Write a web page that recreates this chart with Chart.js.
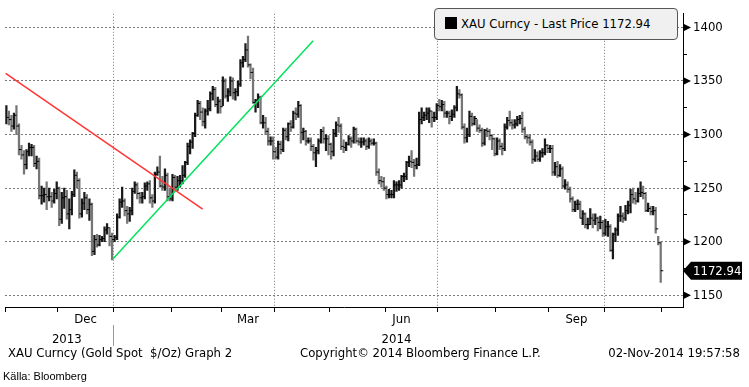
<!DOCTYPE html>
<html lang="sv">
<head>
<meta charset="UTF-8">
<title>XAU Curncy - Gold Spot</title>
<script src="https://cdn.jsdelivr.net/npm/chart.js@4"></script>
<style>
  body { margin: 0; background: #fff; }
  #wrap { position: relative; width: 749px; height: 387px; overflow: hidden; font-family: "DejaVu Sans Condensed", "DejaVu Sans", sans-serif; color: #000; }
  #chart { position: absolute; left: 0; top: 0; }
  .legend { position: absolute; left: 434px; top: 8px; width: 242px; height: 30px; background: #f0f0f0; border: 1px solid #555; border-radius: 4px; font-size: 13px; line-height: 30px; white-space: nowrap; }
  .legend i { display: inline-block; width: 12px; height: 12px; background: #000; margin: 0 4px 0 10px; vertical-align: -1px; }
  .foot { position: absolute; top: 345px; font-size: 13px; white-space: pre; }
  .src { position: absolute; left: 3px; top: 370px; font: 11px "Liberation Sans Narrow", "Liberation Sans", sans-serif; }
</style>
</head>
<body>
<div id="wrap">
  <canvas id="chart" width="749" height="387"></canvas>
  <div class="legend"><i></i>XAU Curncy - Last Price 1172.94</div>
  <div class="foot" style="left:8px">XAU Curncy (Gold Spot  $/Oz) Graph 2</div>
  <div class="foot" style="left:300px">Copyright© 2014 Bloomberg Finance L.P.</div>
  <div class="foot" style="right:9px">02-Nov-2014 19:57:58</div>
  <div class="src">Källa: Bloomberg</div>
</div>
<script>
// daily bars, one per weekday, 1 Nov 2013 - 31 Oct 2014
const highs = [
  1327,1322,1318,1320,1327,1310,1290,1285,1286,1292,1291,1290,1280,1278,1252,1250,1256,1250,1246,1249,1256, // Nov
  1251,1246,1250,1248,1240,1247,1267,1265,1259,1240,1246,1244,1240,1236,1206,1207,1206,1205,1214,1217,1213,1208, // Dec
  1206,1226,1240,1251,1240,1233,1232,1250,1256,1255,1246,1246,1255,1256,1257,1244,1265,1270,1280,1261,1268,1264,1250, // Jan
  1263,1262,1261,1262,1271,1275,1292,1295,1302,1320,1332,1331,1325,1324,1332,1340,1345,1344,1335,1333, // Feb
  1354,1352,1343,1354,1353,1343,1350,1370,1373,1385,1392,1366,1362,1333,1338,1336,1318,1316,1306,1298,1298, // Mar
  1288,1294,1294,1306,1306,1311,1313,1322,1325,1331,1328,1306,1304,1297,1297,1291,1288,1296,1305,1307,1300,1299, // Apr
  1292,1305,1312,1316,1310,1295,1293,1299,1298,1307,1306,1297,1297,1297,1296,1297,1296,1296,1293,1268,1261,1260, // May
  1252,1249,1248,1257,1256,1257,1262,1264,1275,1280,1285,1277,1278,1321,1325,1321,1325,1325,1322,1321,1329, // Jun
  1333,1332,1331,1322,1322,1323,1327,1345,1342,1338,1310,1306,1322,1320,1317,1314,1309,1306,1305,1306,1305,1300,1297, // Jul
  1297,1296,1292,1310,1316,1322,1314,1314,1317,1318,1321,1307,1300,1300,1295,1286,1284,1285,1287,1296,1291, // Aug
  1290,1290,1274,1275,1272,1270,1258,1256,1251,1242,1238,1239,1238,1229,1227,1222,1231,1226,1226,1223,1224,1220, // Sep
  1221,1219,1216,1208,1213,1226,1233,1227,1234,1238,1249,1250,1246,1250,1256,1252,1246,1236,1233,1233,1232,1205,1200  // Oct
];
const lows = [
  1310,1309,1303,1305,1300,1281,1277,1263,1268,1280,1280,1270,1268,1240,1235,1237,1230,1238,1232,1236,1240,
  1215,1217,1231,1221,1212,1225,1242,1250,1222,1223,1230,1226,1220,1187,1188,1195,1196,1200,1200,1207,1196,1183,
  1200,1202,1222,1232,1224,1217,1219,1225,1245,1240,1236,1236,1240,1248,1236,1232,1236,1262,1251,1248,1248,1238,1238,
  1238,1249,1248,1251,1254,1260,1272,1282,1287,1298,1317,1314,1308,1306,1318,1322,1332,1326,1320,1320,
  1327,1334,1331,1336,1333,1332,1336,1345,1363,1368,1363,1352,1329,1321,1325,1310,1306,1300,1290,1290,1277,
  1277,1277,1282,1284,1295,1294,1303,1306,1314,1316,1292,1295,1290,1292,1285,1276,1270,1282,1292,1292,1285,1281,
  1277,1280,1298,1302,1286,1283,1285,1290,1288,1292,1292,1290,1288,1290,1286,1287,1290,1290,1262,1254,1251,1248,
  1240,1241,1241,1241,1247,1248,1250,1256,1258,1270,1269,1261,1268,1271,1310,1313,1314,1311,1307,1312,1314,
  1322,1322,1316,1316,1310,1313,1316,1322,1334,1305,1292,1293,1298,1308,1309,1303,1302,1289,1290,1298,1295,1286,1280,
  1281,1286,1281,1285,1305,1308,1305,1306,1308,1310,1302,1296,1292,1290,1273,1275,1275,1275,1279,1281,1283,
  1283,1262,1262,1260,1261,1250,1249,1246,1237,1228,1228,1230,1222,1216,1213,1212,1216,1213,1216,1210,1212,1205,
  1206,1205,1191,1184,1200,1206,1219,1218,1220,1226,1227,1236,1235,1237,1242,1240,1228,1228,1225,1225,1208,1197,1162
];
const closes = [
  1316,1314,1308,1318,1308,1286,1281,1272,1284,1288,1288,1273,1275,1243,1243,1244,1242,1242,1238,1245,1250,
  1221,1241,1242,1226,1230,1244,1262,1257,1226,1236,1241,1230,1235,1191,1202,1197,1202,1203,1211,1213,1205,1202,
  1204,1223,1237,1238,1229,1226,1229,1247,1253,1245,1241,1242,1252,1254,1241,1238,1263,1265,1252,1251,1262,1242,1240,
  1260,1251,1257,1257,1262,1274,1289,1293,1301,1318,1329,1321,1312,1322,1324,1338,1342,1328,1331,1326,
  1350,1336,1340,1350,1339,1340,1347,1367,1370,1379,1365,1358,1330,1332,1335,1311,1311,1303,1294,1294,1284,
  1279,1291,1286,1304,1298,1310,1307,1320,1319,1327,1302,1303,1294,1294,1289,1283,1285,1294,1303,1296,1296,1291,
  1284,1301,1309,1308,1289,1288,1291,1296,1294,1305,1294,1293,1293,1294,1289,1294,1292,1292,1265,1257,1256,1250,
  1244,1244,1244,1253,1253,1253,1261,1261,1274,1275,1274,1271,1272,1314,1316,1318,1320,1322,1316,1316,1327,
  1326,1328,1320,1320,1317,1319,1325,1338,1337,1307,1297,1300,1317,1310,1315,1306,1304,1292,1304,1303,1299,1296,1282,
  1294,1289,1287,1307,1313,1311,1309,1310,1314,1315,1305,1298,1297,1293,1277,1280,1277,1283,1283,1290,1287,
  1287,1265,1270,1262,1268,1252,1253,1249,1240,1230,1235,1235,1222,1226,1216,1216,1222,1220,1222,1218,1218,1208,
  1214,1214,1192,1207,1211,1224,1224,1222,1229,1234,1244,1240,1238,1245,1246,1245,1229,1231,1228,1229,1212,1199,1172.94
];

// x axis: weekdays per month, labelled months, years
const monthNames = ['Nov','Dec','Jan','Feb','Mar','Apr','May','Jun','Jul','Aug','Sep','Oct'];
const monthDays  = [21, 22, 23, 20, 21, 22, 22, 21, 23, 21, 22, 23];
const gridMonths = ['Jan','Apr','Jul','Oct'];     // dashed line at the start of these
const labelNames = ['Dec', 'Mar', 'Jun', 'Sep'];
const labelAt    = [31.5, 96, 157, 226.5];        // bar index under each month label
const yearNames  = ['2013', '2014'];
const yearAt     = [24, 155];
const yTicks = [1150,1175,1200,1225,1250,1275,1300,1325,1350,1375,1400];

// trend lines drawn on the chart: [bar index, price]
const redTrend   = [[-0.3, 1357], [78, 1230.5]];
const greenTrend = [[42.3, 1184], [121.9, 1387.6]];

const FONT = '"DejaVu Sans Condensed", "DejaVu Sans", sans-serif';
const X_MIN = -0.55, X_MAX = 268.85;

// month start positions (between bars)
let starts = [], acc = 0;
monthDays.forEach(d => { starts.push(acc - 0.5); acc += d; });
starts.push(acc - 0.5);
const gridAt = gridMonths.map(m => starts[monthNames.indexOf(m)]);

const idx = closes.map((c, i) => i);
const barColors = closes.map((c, i) => (i === 0 || c >= closes[i - 1]) ? '#1a1a1a' : '#767676');

const extras = {
  id: 'extras',
  afterDraw(chart) {
    const c = chart.ctx, ys = chart.scales.y, xs = chart.scales.x, xm = chart.scales.xm, xy = chart.scales.xy;
    c.save();
    // arrows at major y ticks
    c.fillStyle = '#000';
    yTicks.filter(v => v % 50 === 0).forEach(v => {
      const y = ys.getPixelForValue(v);
      c.beginPath();
      c.moveTo(ys.left + 1, y - 3.5);
      c.lineTo(ys.left + 8, y);
      c.lineTo(ys.left + 1, y + 3.5);
      c.closePath();
      c.fill();
    });
    // year separator
    const sx = Math.round(xs.getPixelForValue(gridAt[0])) + 0.5;
    c.strokeStyle = '#999';
    c.lineWidth = 1;
    c.beginPath();
    c.moveTo(sx, xm.bottom - 7);
    c.lineTo(sx, xy.top + 14);
    c.stroke();
    // last price flag
    const last = closes[closes.length - 1];
    const py = ys.getPixelForValue(last);
    const fx = ys.left;
    c.fillStyle = '#000';
    c.beginPath();
    c.moveTo(fx, py);
    c.lineTo(fx + 8, py - 9);
    c.lineTo(fx + 59, py - 9);
    c.lineTo(fx + 59, py + 9);
    c.lineTo(fx + 8, py + 9);
    c.closePath();
    c.fill();
    c.fillStyle = '#fff';
    c.font = '13px ' + FONT;
    c.textBaseline = 'middle';
    c.fillText(last.toFixed(2), fx + 10, py + 1);
    c.restore();
  }
};

const xBase = { type: 'linear', min: X_MIN, max: X_MAX, offset: false, position: 'bottom' };

new Chart(document.getElementById('chart'), {
  type: 'bar',
  data: {
    datasets: [
      {
        type: 'bar',
        data: idx.map(i => ({ x: i, y: [lows[i], highs[i]] })),
        backgroundColor: barColors,
        barThickness: 1.6,
        order: 3
      },
      {
        type: 'scatter',
        data: idx.map(i => ({ x: i + 0.5, y: closes[i] })),
        pointStyle: 'line',
        pointRadius: 1.3,
        borderColor: '#000',
        borderWidth: 1,
        order: 2
      },
      {
        type: 'line',
        data: redTrend.map(p => ({ x: p[0], y: p[1] })),
        borderColor: '#ff3535',
        borderWidth: 1.5,
        pointRadius: 0,
        order: 1
      },
      {
        type: 'line',
        data: greenTrend.map(p => ({ x: p[0], y: p[1] })),
        borderColor: '#00e35a',
        borderWidth: 1.5,
        pointRadius: 0,
        order: 1
      }
    ]
  },
  options: {
    responsive: false,
    animation: false,
    events: [],
    layout: { padding: { left: 4, top: 5, right: 0, bottom: 0 } },
    plugins: { legend: { display: false }, tooltip: { enabled: false } },
    scales: {
      x: {
        ...xBase, weight: 0,
        afterBuildTicks: s => { s.ticks = starts.map(v => ({ value: v })); },
        ticks: { display: false },
        grid: {
          offset: false,
          color: ctx => (ctx.tick && gridAt.includes(ctx.tick.value)) ? '#7a7a7a' : 'rgba(0,0,0,0)',
          tickColor: '#000', tickLength: 5, lineWidth: 1
        },
        border: { color: '#000', width: 1, dash: [1, 2] },
        afterFit: s => { s.height = 5; }
      },
      xm: {
        ...xBase, weight: 1,
        afterBuildTicks: s => { s.ticks = labelAt.map(v => ({ value: v })); },
        ticks: {
          autoSkip: false, maxRotation: 0, padding: 0, color: '#000',
          font: { family: FONT, size: 13 },
          callback: (v, i) => labelNames[i]
        },
        grid: { display: false, drawTicks: false, offset: false },
        border: { display: false },
        afterFit: s => { s.height = 20; }
      },
      xy: {
        ...xBase, weight: 2,
        afterBuildTicks: s => { s.ticks = yearAt.map(v => ({ value: v })); },
        ticks: {
          autoSkip: false, maxRotation: 0, padding: 0, color: '#000',
          font: { family: FONT, size: 13 },
          callback: (v, i) => yearNames[i]
        },
        grid: { display: false, drawTicks: false, offset: false },
        border: { display: false },
        afterFit: s => { s.height = 55; }
      },
      y: {
        position: 'right', min: 1139.1, max: 1412.7,
        afterBuildTicks: s => { s.ticks = yTicks.map(v => ({ value: v })); },
        ticks: {
          padding: 6, color: '#000', font: { family: FONT, size: 13 },
          callback: v => v % 50 === 0 ? String(v) : ''
        },
        grid: {
          color: ctx => (ctx.tick && ctx.tick.value % 50 === 0) ? '#7a7a7a' : 'rgba(0,0,0,0)',
          tickColor: '#000', tickLength: 4
        },
        border: { color: '#000', width: 1, dash: [2, 2] },
        afterFit: s => { s.width = 66; }
      }
    }
  },
  plugins: [extras]
});
</script>
</body>
</html>
